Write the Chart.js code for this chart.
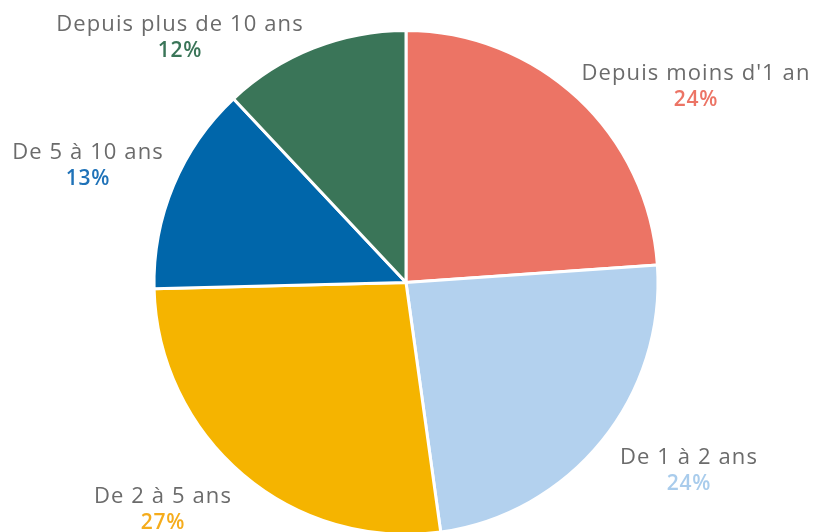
<!DOCTYPE html>
<html>
<head>
<meta charset="utf-8">
<script src="https://cdn.jsdelivr.net/npm/chart.js@4.4.0/dist/chart.umd.min.js"></script>
<style>
  html, body { margin: 0; padding: 0; background: #fff; overflow: hidden; }
  #wrap { width: 814px; height: 532px; overflow: hidden; }
</style>
</head>
<body>
<div id="wrap"><canvas id="myChart" width="814" height="566"></canvas></div>
<script>
const categories = ["Depuis moins d'1 an", "De 1 à 2 ans", "De 2 à 5 ans", "De 5 à 10 ans", "Depuis plus de 10 ans"];
const shares = [23.9, 23.9, 26.8, 13.4, 12.0];

const sliceColors = ["#EC7465", "#B3D1EE", "#F5B400", "#0066AA", "#3A7558"];
const pctColors = ["#EC7465", "#A9CCEC", "#F5AC1C", "#1F72B8", "#3A7558"];
// label centres, relative to pie centre
const labelOffsets = [[290, -196], [283, 188], [-243, 227], [-318, -117], [-226, -245]];

const outsideLabels = {
    id: "outsideLabels",
    afterDraw(chart) {
        const ctx = chart.ctx;
        const arcs = chart.getDatasetMeta(0).data;
        ctx.save();
        ctx.textAlign = "center";
        ctx.textBaseline = "middle";
        arcs.forEach((arc, i) => {
            const x = arc.x + labelOffsets[i][0];
            const y = arc.y + labelOffsets[i][1];
            ctx.font = "500 22px 'Open Sans'";
            ctx.letterSpacing = "1.1px";
            ctx.fillStyle = "#6B6B6B";
            ctx.fillText(categories[i], x, y - 13);
            ctx.font = "600 21px 'Open Sans'";
            ctx.letterSpacing = "0.8px";
            ctx.fillStyle = pctColors[i];
            ctx.fillText(Math.round(shares[i]) + "%", x, y + 14);
        });
        ctx.restore();
    }
};

const myChart = new Chart(document.getElementById("myChart"), {
    type: "pie",
    data: {
        labels: categories,
        datasets: [{
            data: shares,
            backgroundColor: sliceColors,
            borderColor: "#ffffff",
            borderWidth: 3
        }]
    },
    options: {
        responsive: false,
        animation: false,
        layout: { padding: { top: 29, bottom: 30, left: 0, right: 2 } },
        plugins: {
            legend: { display: false },
            tooltip: { enabled: false }
        }
    },
    plugins: [outsideLabels]
});
</script>
</body>
</html>
